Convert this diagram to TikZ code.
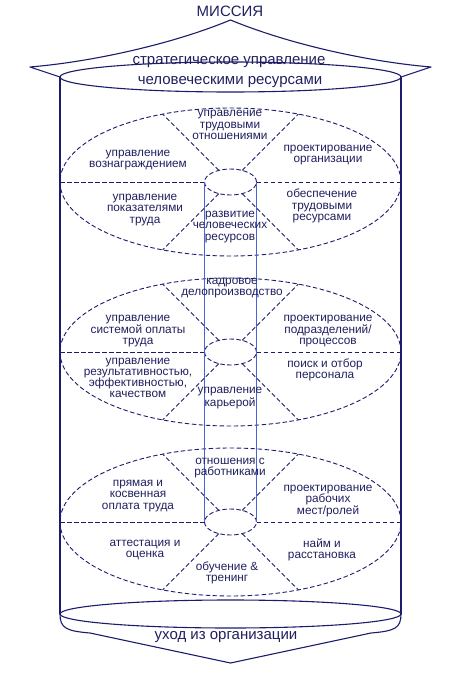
\documentclass[tikz,border=0pt]{standalone}
\usepackage{fontspec}
\setmainfont{Liberation Sans}
\usetikzlibrary{shapes.geometric}
\definecolor{navy}{RGB}{28,28,110}
\definecolor{txtc}{RGB}{32,32,96}
\definecolor{colblue}{RGB}{70,100,210}
\begin{document}
\begin{tikzpicture}[x=1pt,y=-1pt,
  dpat/.style={dash pattern=on 4.5pt off 2.5pt},
  bigell/.style={ellipse,draw=navy,dpat,line width=0.9pt,minimum width=341pt,minimum height=148pt,inner sep=0pt,outer sep=0pt},
  smallell/.style={ellipse,draw=navy,dpat,line width=0.9pt,minimum width=52pt,minimum height=26pt,inner sep=0pt,outer sep=0pt},
  dline/.style={draw=navy,line width=0.9pt,dpat},
  colline/.style={draw=colblue,line width=1pt},
  lbl/.style={text=txtc,font=\fontsize{11.8}{11.2}\selectfont,align=center,inner sep=0pt},
  biglbl/.style={text=txtc,font=\fontsize{15}{15}\selectfont,inner sep=0pt},
  solidline/.style={draw=navy,line width=1.1pt,line join=round},
  capell/.style={ellipse,draw=navy,line width=1.1pt,minimum width=341pt,inner sep=0pt,outer sep=0pt}
]
\fill[white] (0,0) rectangle (449,677);
\useasboundingbox (0,0) rectangle (449,677);

% top and bottom caps
\node[capell,minimum height=30pt] (T) at (230.5,77) {};
\node[capell,minimum height=28pt] (B) at (230.5,614) {};
\coordinate (apex) at (230.5,20);
\coordinate (Lc) at (30,67);
\coordinate (Rc) at (431,67);
\coordinate (bl) at (90,633);
\coordinate (br) at (371,633);
\coordinate (bapex) at (230.5,663);

\draw[solidline] (T.west) -- (Lc) .. controls (90,62) and (170,45) .. (apex)
  .. controls (291,45) and (371,62) .. (Rc) -- (T.east);
\draw[solidline] (T.west) -- (B.west);
\draw[solidline] (T.east) -- (B.east);
\draw[solidline] (B.west) .. controls (60,628) and (66,631) .. (bl) -- (bapex)
  -- (br) .. controls (395,631) and (401,628) .. (B.east);

% three wheels
\foreach \i/\y in {1/182,2/352,3/522}{
  \node[bigell] (E\i) at (230.5,\y) {};
  \node[smallell] (s\i) at (230.5,\y) {};
  \draw[dline] (E\i.west) -- (s\i.west);
  \draw[dline] (s\i.east) -- (E\i.east);
  \draw[dline] (s\i.135) -- (E\i.135);
  \draw[dline] (s\i.45) -- (E\i.45);
  \draw[dline] (s\i.225) -- (E\i.225);
  \draw[dline] (s\i.315) -- (E\i.315);
}
\draw[colline] (s1.west) -- (s3.west);
\draw[colline] (s1.east) -- (s3.east);

% texts
\node[biglbl] (mis) at (230,11) {МИССИЯ};
\node[biglbl] (st1) at (229,62) {стратегическое управление};
\node[biglbl] (st2) at (230,82) {человеческими ресурсами};
\node[biglbl] (exit) at (226,637) {уход из организации};

\node[lbl] (a1) at (230,125) {управление\\трудовыми\\отношениями};
\node[lbl] (a2) at (138,160) {управление\\вознаграждением};
\node[lbl] (a3) at (328,155) {проектирование\\организации};
\node[lbl] (a4) at (145,210) {управление\\показателями\\труда};
\node[lbl] (a5) at (230,227) {развитие\\человеческих\\ресурсов};
\node[lbl] (a6) at (322,206) {обеспечение\\трудовыми\\ресурсами};

\node[lbl] (b1) at (232,288) {кадровое\\делопроизводство};
\node[lbl] (b2) at (138,331) {управление\\системой оплаты\\труда};
\node[lbl] (b3) at (328,331) {проектирование\\подразделений/\\процессов};
\node[lbl] (b4) at (138,378) {управление\\результативностью,\\эффективностью,\\качеством};
\node[lbl] (b5) at (230,398) {управление\\карьерой};
\node[lbl] (b6) at (325,370) {поиск и отбор\\персонала};

\node[lbl] (c1) at (230,468) {отношения с\\работниками};
\node[lbl] (c2) at (138,496) {прямая и\\косвенная\\оплата труда};
\node[lbl] (c3) at (328,501) {проектирование\\рабочих\\мест/ролей};
\node[lbl] (c4) at (145,550) {аттестация и\\оценка};
\node[lbl] (c5) at (227,573) {обучение \&\\тренинг};
\node[lbl] (c6) at (322,550) {найм и\\расстановка};
\end{tikzpicture}
\end{document}
